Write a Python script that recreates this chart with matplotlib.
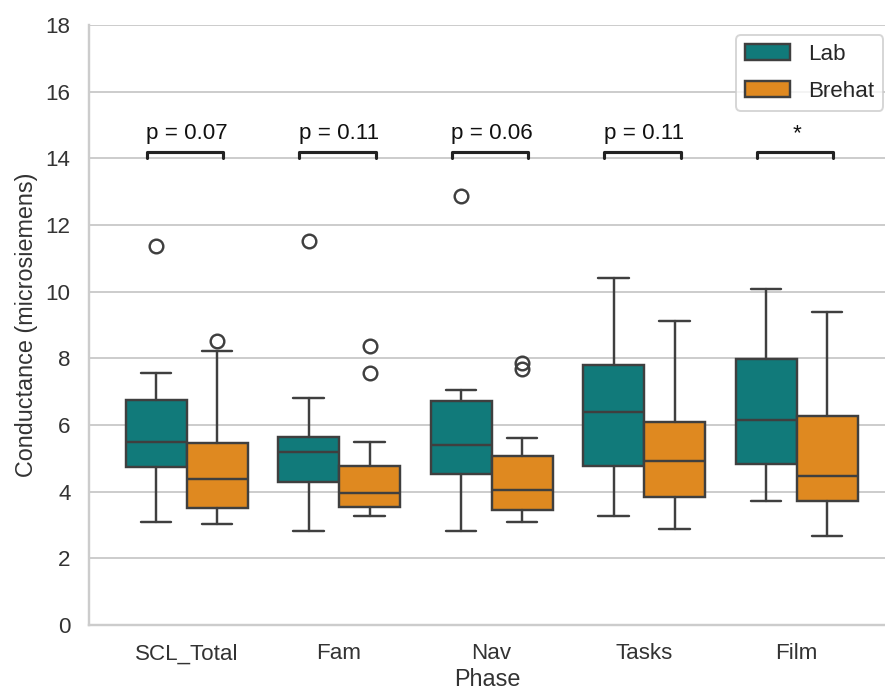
import numpy as np
import matplotlib
matplotlib.use("Agg")
import matplotlib.pyplot as plt
import matplotlib.patches as mpatches
import seaborn as sns

# summary stats (per phase)
phases = ["SCL_Total", "Fam", "Nav", "Tasks", "Film"]
groups = ["Lab", "Brehat"]

lab_q1 = [4.73, 4.28, 4.53, 4.77, 4.82]
lab_med = [5.50, 5.20, 5.40, 6.38, 6.14]
lab_q3 = [6.76, 5.65, 6.73, 7.79, 7.99]
lab_wlo = [3.08, 2.83, 2.83, 3.27, 3.71]
lab_whi = [7.55, 6.81, 7.06, 10.41, 10.07]
lab_fliers = [[11.37], [11.53], [12.88], [], []]

bre_q1 = [3.51, 3.55, 3.45, 3.85, 3.71]
bre_med = [4.38, 3.95, 4.05, 4.92, 4.48]
bre_q3 = [5.45, 4.77, 5.07, 6.08, 6.28]
bre_wlo = [3.03, 3.27, 3.08, 2.88, 2.68]
bre_whi = [8.23, 5.50, 5.61, 9.11, 9.39]
bre_fliers = [[8.52], [8.38, 7.55], [7.85, 7.68], [], []]

p_labels = ["p = 0.07", "p = 0.11", "p = 0.06", "p = 0.11", "*"]

sns.set_theme(style="whitegrid")
plt.rcParams["font.family"] = ["Liberation Sans", "DejaVu Sans"]

dpi = 140
fig = plt.figure(figsize=(885 / dpi, 691 / dpi), dpi=dpi)
ax = fig.add_axes([89 / 885, 66 / 691, 1 - 89 / 885, 600 / 691])

colors = {"Lab": sns.desaturate("darkcyan", 0.75),
          "Brehat": sns.desaturate("darkorange", 0.75)}
lc = "#3f3f3f"

def stats(q1, med, q3, wlo, whi, fl):
    return [dict(q1=a, med=b, q3=c, whislo=d, whishi=e, fliers=f)
            for a, b, c, d, e, f in zip(q1, med, q3, wlo, whi, fl)]

x = np.arange(len(phases))
sets = [(stats(lab_q1, lab_med, lab_q3, lab_wlo, lab_whi, lab_fliers), -0.2, "Lab"),
        (stats(bre_q1, bre_med, bre_q3, bre_wlo, bre_whi, bre_fliers), 0.2, "Brehat")]
for st, off, g in sets:
    ax.bxp(st, positions=x + off, widths=0.4, patch_artist=True,
           boxprops=dict(facecolor=colors[g], edgecolor=lc, linewidth=1.25),
           medianprops=dict(color=lc, linewidth=1.25),
           whiskerprops=dict(color=lc, linewidth=1.25),
           capprops=dict(color=lc, linewidth=1.25),
           flierprops=dict(marker="o", markerfacecolor="none", markeredgecolor=lc,
                           markersize=7, markeredgewidth=1.25),
           manage_ticks=False, zorder=3)

# significance brackets
y, h = 14.0, 0.2
for i, lab in enumerate(p_labels):
    x1, x2 = x[i] - 0.26, x[i] + 0.24
    ax.plot([x1, x1, x2, x2], [y, y + h, y + h, y], color="#222222", lw=1.6, zorder=4)
    ax.text(x[i], y + h + 0.22, lab, ha="center", va="bottom", fontsize=11.5, color="#111111")

ax.set_xlim(-0.64, 4.58)
ax.set_ylim(0, 18)
ax.set_yticks(np.arange(0, 19, 2))
ax.set_xticks(x)
ax.set_xticklabels(phases)
ax.xaxis.grid(False)
ax.tick_params(labelsize=11.5, colors="#333333")
ax.set_xlabel("Phase", fontsize=12, color="#333333", labelpad=2)
ax.set_ylabel("Conductance (microsiemens)", fontsize=12, color="#333333")
sns.despine(ax=ax)

handles = [mpatches.Patch(facecolor=colors[g], edgecolor=lc, linewidth=1.25, label=g)
           for g in groups]
ax.legend(handles=handles, loc="upper right", fontsize=11.5, labelspacing=0.7,
          bbox_to_anchor=(0.9975, 0.983), borderaxespad=0)

fig.savefig("out.png", dpi=dpi)
